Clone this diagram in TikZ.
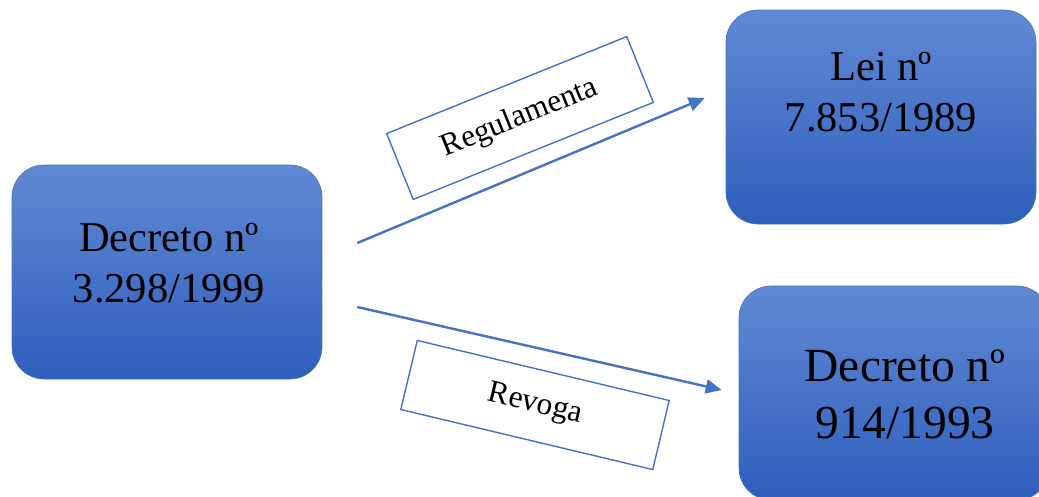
\documentclass[tikz,border=0pt]{standalone}
\usepackage{fontspec}
\setmainfont{Liberation Serif}
\usepackage{tikz}
\usetikzlibrary{positioning,calc,arrows.meta}

\definecolor{azul}{HTML}{4472C4}
\definecolor{azulclaro}{HTML}{6189D4}
\definecolor{azulescuro}{HTML}{2E5FBC}

\begin{document}
\begin{tikzpicture}[x=1pt, y=-1pt,
        caixa/.style={draw=azul, line width=0.6pt, rounded corners=32pt, top color=azulclaro, bottom color=azulescuro, minimum width=310pt, minimum height=214pt},
        texto/.style={font=\fontsize{42.5}{51}\selectfont, align=center, inner sep=0pt},
        rotulo/.style={draw=azul, line width=1.4pt, fill=white, minimum width=259pt, minimum height=71pt, inner sep=0pt, font=\fontsize{31.5}{36}\selectfont},
        seta/.style={azul, line width=2.4pt, -{Triangle[length=16pt,width=14pt]}}
    ]
        \useasboundingbox (0,0) rectangle (1039,496);

        % caixas
        \node [caixa] (dec) at (167,272) {};
        \node [caixa] (lei) at (881,117) {};
        \node [caixa] (rev) at (894,393) {};

        \node [texto] (dectxt) at (169,263) {Decreto nº\\3.298/1999};
        \node [texto] (leitxt) at (881,92) {Lei nº\\7.853/1989};
        \node [texto, font=\fontsize{47.5}{57}\selectfont] (revtxt) at (905,394) {Decreto nº\\914/1993};

        % setas
        \draw [seta] ($(dec.east)+(35,-29)$) -- ($(lei.west)+(-21,-19)$);
        \draw [seta] ($(dec.east)+(35,35)$) -- ($(rev.west)+(-17,-3)$);

        % rotulos das setas
        \node [rotulo, rotate=22] (regula) at (520,118) {Regulamenta};
        \node [rotulo, rotate=-13.4] (revoga) at (535,405) {Revoga};
    \end{tikzpicture}
\end{document}
